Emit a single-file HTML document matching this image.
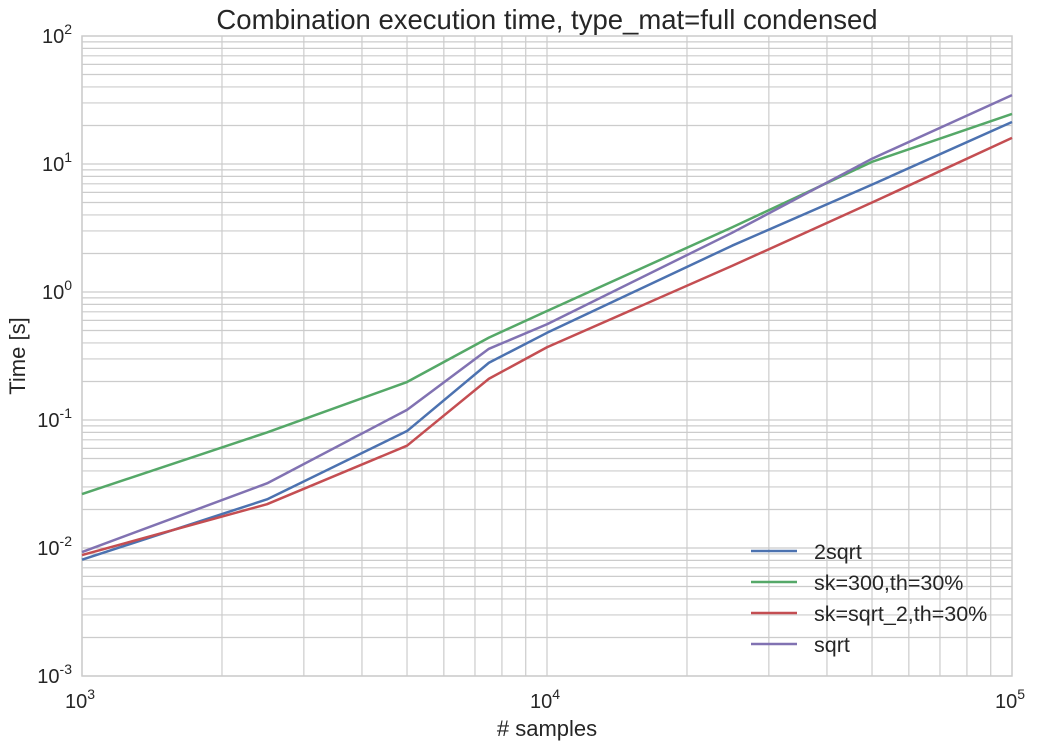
<!DOCTYPE html>
<html><head><meta charset="utf-8"><style>
body{margin:0;background:#fff;}
svg{display:block;font-family:"Liberation Sans",Arial,sans-serif;}
</style></head><body>
<svg id="chart" width="1037" height="749"></svg>
<script>
const samples=[1000,2500,5000,7500,10000,25000,50000,100000];
const s2sqrt=[0.0081,0.024,0.082,0.28,0.48,2.3,6.9,21.3];
const sSk300=[0.0264,0.08,0.198,0.44,0.71,3.2,10.4,24.6];
const sSkSqrt2=[0.0088,0.022,0.063,0.21,0.37,1.6,5.0,16.0];
const sSqrt=[0.0093,0.032,0.12,0.36,0.56,2.9,11.0,34.5];
const seriesNames=["2sqrt","sk=300,th=30%","sk=sqrt_2,th=30%","sqrt"];
const xTickExp=[3,4,5];
const yTickExp=[-3,-2,-1,0,1,2];

const L=82,R=1012,T=36,B=676;
const NS="http://www.w3.org/2000/svg";
const svg=document.getElementById('chart');
const X=v=>L+(Math.log10(v)-3)/2*(R-L);
const Y=v=>B-(Math.log10(v)+3)/5*(B-T);
function mk(t,a,p){const e=document.createElementNS(NS,t);for(const k in a)e.setAttribute(k,a[k]);(p||svg).appendChild(e);return e;}

const grid=mk('g',{});


for(let e=3;e<5;e++)for(let m=1;m<10;m++){const x=X(m*Math.pow(10,e));mk('line',{x1:x,x2:x,y1:T,y2:B,stroke:'#cccccc','stroke-width':1.2},grid);}
for(let e=-3;e<2;e++)for(let m=1;m<10;m++){const y=Y(m*Math.pow(10,e));mk('line',{x1:L,x2:R,y1:y,y2:y,stroke:'#cccccc','stroke-width':1.2},grid);}
const frame=mk('rect',{x:L,y:T,width:R-L,height:B-T,fill:'none',stroke:'#cccccc','stroke-width':1.5});



xTickExp.forEach(e=>{const t=mk('text',{x:X(Math.pow(10,e))-2,y:B+32,'text-anchor':'middle','font-size':20,fill:'#262626'});


t.innerHTML='10<tspan dy="-9" font-size="14">'+e+'</tspan>';});
yTickExp.forEach(e=>{const t=mk('text',{x:L-10,y:Y(Math.pow(10,e))+7,'text-anchor':'end','font-size':20,fill:'#262626'});


t.innerHTML='10<tspan dy="-9" font-size="14">'+e+'</tspan>';});

const title=mk('text',{x:547,y:29,'text-anchor':'middle','font-size':27.5,fill:'#262626'});


title.textContent='Combination execution time, type_mat=full condensed';
const xt=mk('text',{x:547,y:736,'text-anchor':'middle','font-size':22,fill:'#262626'});


xt.textContent='# samples';
const yt=mk('text',{x:0,y:0,'text-anchor':'middle','font-size':22,fill:'#262626',transform:'translate(25,356) rotate(-90)'});


yt.textContent='Time [s]';

const all=[s2sqrt,sSk300,sSkSqrt2,sSqrt];
const colors=['#4c72b0','#55a868','#c44e52','#8172b2'];
const lineNames=['line-2sqrt','line-sk300','line-sk-sqrt2','line-sqrt'];
all.forEach((d,i)=>{const p=mk('polyline',{points:samples.map((s,j)=>X(s)+','+Y(d[j])).join(' '),fill:'none',stroke:colors[i],'stroke-width':2.5,'stroke-linejoin':'round'});

});

const leg=mk('g',{});


seriesNames.forEach((n,i)=>{const y=551+i*31;
const g=mk('g',{},leg);


mk('line',{x1:751,x2:797,y1:y,y2:y,stroke:colors[i],'stroke-width':2.5},g);
const t=mk('text',{x:814,y:y+8,'font-size':21.5,fill:'#262626'},g);t.textContent=n;});
</script>
</body></html>
